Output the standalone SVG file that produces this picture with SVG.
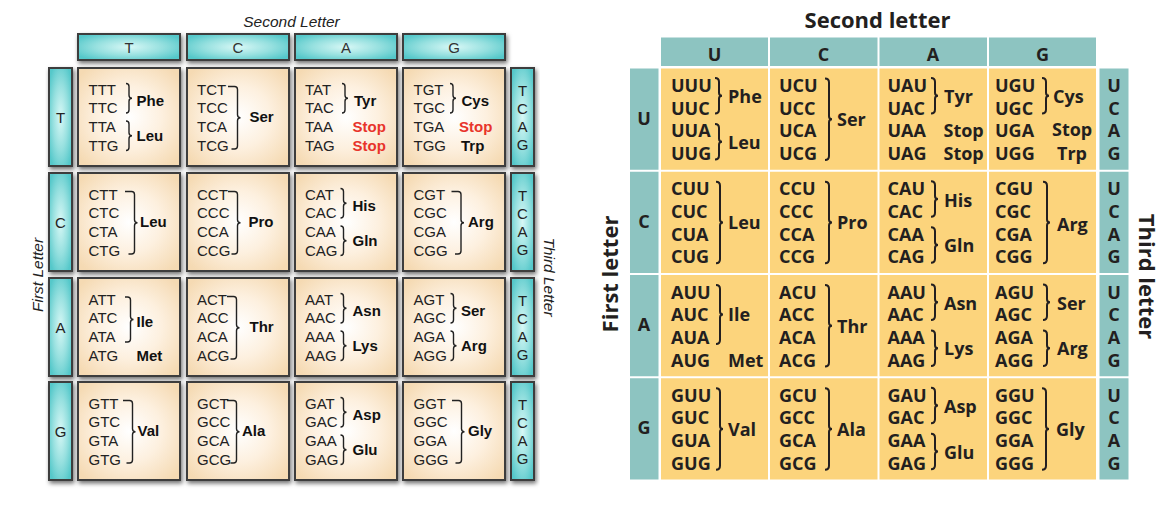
<svg xmlns="http://www.w3.org/2000/svg" xmlns:xlink="http://www.w3.org/1999/xlink" width="1175" height="515" viewBox="0 0 1175 515">
<defs>
<radialGradient id="tealG" cx="50%" cy="50%" r="60%">
<stop offset="0" stop-color="#d8f8f6"/>
<stop offset="0.55" stop-color="#96e0df"/>
<stop offset="1" stop-color="#55c8ca"/>
</radialGradient>
<radialGradient id="cellG" cx="50%" cy="50%" r="64%">
<stop offset="0" stop-color="#ffffff"/>
<stop offset="0.5" stop-color="#fdf0df"/>
<stop offset="1" stop-color="#f5dab3"/>
</radialGradient>
<filter id="sh" x="-15%" y="-15%" width="140%" height="140%">
<feDropShadow dx="1.5" dy="2.5" stdDeviation="2" flood-color="#000" flood-opacity="0.55"/>
</filter>
<path id="lb2" d="M0,0 Q3,0 3,3 V11.75 Q3,14.75 6,14.75 Q3,14.75 3,17.75 V26.5 Q3,29.5 0,29.5"/>
<path id="lb3" d="M0,0 H2.5 Q5.5,0 5.5,3 V19.5 Q5.5,22.5 8.5,22.5 Q5.5,22.5 5.5,25.5 V42 Q5.5,45 2.5,45 H0"/>
<path id="lb4" d="M0,0 H6.5 Q9.5,0 9.5,3 V28.25 Q9.5,31.25 12.5,31.25 Q9.5,31.25 9.5,34.25 V59.5 Q9.5,62.5 6.5,62.5 H3.5"/>
<path id="rb2" d="M0,0 Q4,0 4,4 V14.75 Q4,17.75 7,17.75 Q4,17.75 4,20.75 V31.5 Q4,35.5 0,35.5"/>
<path id="rb3" d="M0,0 Q4,0 4,4 V26.5 Q4,29.5 7,29.5 Q4,29.5 4,32.5 V55 Q4,59 0,59"/>
<path id="rb4" d="M0,0 Q4,0 4,4 V37.75 Q4,40.75 7,40.75 Q4,40.75 4,43.75 V77.5 Q4,81.5 0,81.5"/>
</defs>
<style>
.L{font-family:"Liberation Sans",Arial,sans-serif;font-size:15px;fill:#222}
.la{font-weight:bold;fill:#111}
.ls{font-weight:bold;fill:#e8342b}
.mid{text-anchor:middle}
.lt{font-style:italic;font-size:15.5px;text-anchor:middle;fill:#222}
.lbr{fill:none;stroke:#222;stroke-width:1.4}
.teal{fill:url(#tealG);stroke:#3c3c3c;stroke-width:2;filter:url(#sh)}
.cell{fill:url(#cellG);stroke:#3c3c3c;stroke-width:2;filter:url(#sh)}
.R{font-family:"Open Sans","Noto Sans",sans-serif;font-weight:bold;font-size:18px;fill:#231f20}
.rt{font-size:22px;text-anchor:middle}
.rbr{fill:none;stroke:#231f20;stroke-width:2}
.rcell{fill:#fcd47c}
.rteal{fill:#8dc4c1}
</style>
<rect x="0" y="0" width="1175" height="515" fill="#ffffff"/>

<!-- ================= LEFT TABLE (DNA) ================= -->
<g id="left-titles" class="L">
<text class="lt" x="291.5" y="26.5">Second Letter</text>
<text class="lt" transform="translate(42.5,275) rotate(-90)">First Letter</text>
<text class="lt" transform="translate(544,277) rotate(90)">Third Letter</text>
</g>
<g id="left-headers" class="L">
<rect class="teal" x="78" y="34" width="102" height="26"/>
<rect class="teal" x="187" y="34" width="102" height="26"/>
<rect class="teal" x="295" y="34" width="102" height="26"/>
<rect class="teal" x="403" y="34" width="102" height="26"/>
<text class="mid" x="129" y="52.5" fill="#333">T</text>
<text class="mid" x="238" y="52.5" fill="#333">C</text>
<text class="mid" x="346" y="52.5" fill="#333">A</text>
<text class="mid" x="454" y="52.5" fill="#333">G</text>
</g>
<g id="left-first" class="L">
<rect class="teal" x="49" y="68" width="23" height="98"/>
<rect class="teal" x="49" y="173" width="23" height="98"/>
<rect class="teal" x="49" y="278" width="23" height="98"/>
<rect class="teal" x="49" y="382" width="23" height="98"/>
<text class="mid" x="60.5" y="122.5">T</text>
<text class="mid" x="60.5" y="227.5">C</text>
<text class="mid" x="60.5" y="332.5">A</text>
<text class="mid" x="60.5" y="436.5">G</text>
</g>
<g id="left-third" class="L">
<rect class="teal" x="511" y="68" width="23" height="98"/>
<rect class="teal" x="511" y="173" width="23" height="98"/>
<rect class="teal" x="511" y="278" width="23" height="98"/>
<rect class="teal" x="511" y="382" width="23" height="98"/>
<g class="mid">
<text x="522.5" y="96.4">T</text><text x="522.5" y="114.4">C</text><text x="522.5" y="132.4">A</text><text x="522.5" y="150.4">G</text>
<text x="522.5" y="201.4">T</text><text x="522.5" y="219.4">C</text><text x="522.5" y="237.4">A</text><text x="522.5" y="255.4">G</text>
<text x="522.5" y="306.4">T</text><text x="522.5" y="324.4">C</text><text x="522.5" y="342.4">A</text><text x="522.5" y="360.4">G</text>
<text x="522.5" y="410.4">T</text><text x="522.5" y="428.4">C</text><text x="522.5" y="446.4">A</text><text x="522.5" y="464.4">G</text>
</g>
</g>

<!-- Row T -->
<g id="L-TT" class="L">
<rect class="cell" x="78" y="68" width="102" height="98"/>
<text x="88.5" y="94.5">TTT</text><text x="88.5" y="113.2">TTC</text><text x="88.5" y="131.8">TTA</text><text x="88.5" y="150.5">TTG</text>
<use href="#lb2" class="lbr" x="126" y="83.5"/><use href="#lb2" class="lbr" x="126" y="121"/>
<text class="la" x="136.5" y="105.5">Phe</text><text class="la" x="136.5" y="140.5">Leu</text>
</g>
<g id="L-TC" class="L">
<rect class="cell" x="187" y="68" width="102" height="98"/>
<text x="197" y="94.5">TCT</text><text x="197" y="113.2">TCC</text><text x="197" y="131.8">TCA</text><text x="197" y="150.5">TCG</text>
<use href="#lb4" class="lbr" x="228" y="86.5"/>
<text class="la" x="249.5" y="122">Ser</text>
</g>
<g id="L-TA" class="L">
<rect class="cell" x="295" y="68" width="102" height="98"/>
<text x="305" y="94.5">TAT</text><text x="305" y="113.2">TAC</text><text x="305" y="131.8">TAA</text><text x="305" y="150.5">TAG</text>
<use href="#lb2" class="lbr" x="342" y="83.5"/>
<text class="la" x="354" y="105.5">Tyr</text>
<text class="ls" x="352.5" y="131.8">Stop</text><text class="ls" x="352.5" y="150.5">Stop</text>
</g>
<g id="L-TG" class="L">
<rect class="cell" x="403" y="68" width="102" height="98"/>
<text x="413.5" y="94.5">TGT</text><text x="413.5" y="113.2">TGC</text><text x="413.5" y="131.8">TGA</text><text x="413.5" y="150.5">TGG</text>
<use href="#lb2" class="lbr" x="450" y="83.5"/>
<text class="la" x="461.5" y="105.5">Cys</text>
<text class="ls" x="459" y="131.8">Stop</text><text class="la" x="461" y="150.5">Trp</text>
</g>

<!-- Row C -->
<g id="L-CT" class="L">
<rect class="cell" x="78" y="173" width="102" height="98"/>
<text x="88.5" y="199.5">CTT</text><text x="88.5" y="218.2">CTC</text><text x="88.5" y="236.8">CTA</text><text x="88.5" y="255.5">CTG</text>
<use href="#lb4" class="lbr" x="125" y="191.5"/>
<text class="la" x="140" y="227">Leu</text>
</g>
<g id="L-CC" class="L">
<rect class="cell" x="187" y="173" width="102" height="98"/>
<text x="197" y="199.5">CCT</text><text x="197" y="218.2">CCC</text><text x="197" y="236.8">CCA</text><text x="197" y="255.5">CCG</text>
<use href="#lb4" class="lbr" x="228" y="191.5"/>
<text class="la" x="248.5" y="227">Pro</text>
</g>
<g id="L-CA" class="L">
<rect class="cell" x="295" y="173" width="102" height="98"/>
<text x="305" y="199.5">CAT</text><text x="305" y="218.2">CAC</text><text x="305" y="236.8">CAA</text><text x="305" y="255.5">CAG</text>
<use href="#lb2" class="lbr" x="340.5" y="188.5"/><use href="#lb2" class="lbr" x="340.5" y="226"/>
<text class="la" x="352.5" y="210.5">His</text><text class="la" x="352.5" y="245.5">Gln</text>
</g>
<g id="L-CG" class="L">
<rect class="cell" x="403" y="173" width="102" height="98"/>
<text x="413.5" y="199.5">CGT</text><text x="413.5" y="218.2">CGC</text><text x="413.5" y="236.8">CGA</text><text x="413.5" y="255.5">CGG</text>
<use href="#lb4" class="lbr" x="451.5" y="191.5"/>
<text class="la" x="468" y="227">Arg</text>
</g>

<!-- Row A -->
<g id="L-AT" class="L">
<rect class="cell" x="78" y="278" width="102" height="98"/>
<text x="88.5" y="304.5">ATT</text><text x="88.5" y="323.2">ATC</text><text x="88.5" y="341.8">ATA</text><text x="88.5" y="360.5">ATG</text>
<use href="#lb3" class="lbr" x="125" y="297"/>
<text class="la" x="136.5" y="326.5">Ile</text><text class="la" x="136.5" y="360.5">Met</text>
</g>
<g id="L-AC" class="L">
<rect class="cell" x="187" y="278" width="102" height="98"/>
<text x="197" y="304.5">ACT</text><text x="197" y="323.2">ACC</text><text x="197" y="341.8">ACA</text><text x="197" y="360.5">ACG</text>
<use href="#lb4" class="lbr" x="227" y="296.5"/>
<text class="la" x="249.5" y="332">Thr</text>
</g>
<g id="L-AA" class="L">
<rect class="cell" x="295" y="278" width="102" height="98"/>
<text x="305" y="304.5">AAT</text><text x="305" y="323.2">AAC</text><text x="305" y="341.8">AAA</text><text x="305" y="360.5">AAG</text>
<use href="#lb2" class="lbr" x="340.5" y="293.5"/><use href="#lb2" class="lbr" x="340.5" y="331"/>
<text class="la" x="352.5" y="315.5">Asn</text><text class="la" x="352.5" y="350.5">Lys</text>
</g>
<g id="L-AG" class="L">
<rect class="cell" x="403" y="278" width="102" height="98"/>
<text x="413.5" y="304.5">AGT</text><text x="413.5" y="323.2">AGC</text><text x="413.5" y="341.8">AGA</text><text x="413.5" y="360.5">AGG</text>
<use href="#lb2" class="lbr" x="450.5" y="293.5"/><use href="#lb2" class="lbr" x="450.5" y="331"/>
<text class="la" x="461" y="315.5">Ser</text><text class="la" x="461" y="350.5">Arg</text>
</g>

<!-- Row G -->
<g id="L-GT" class="L">
<rect class="cell" x="78" y="382" width="102" height="98"/>
<text x="88.5" y="408.5">GTT</text><text x="88.5" y="427.2">GTC</text><text x="88.5" y="445.8">GTA</text><text x="88.5" y="464.5">GTG</text>
<use href="#lb4" class="lbr" x="123" y="400.5"/>
<text class="la" x="137.5" y="436">Val</text>
</g>
<g id="L-GC" class="L">
<rect class="cell" x="187" y="382" width="102" height="98"/>
<text x="197" y="408.5">GCT</text><text x="197" y="427.2">GCC</text><text x="197" y="445.8">GCA</text><text x="197" y="464.5">GCG</text>
<use href="#lb4" class="lbr" x="227" y="400.5"/>
<text class="la" x="242" y="436">Ala</text>
</g>
<g id="L-GA" class="L">
<rect class="cell" x="295" y="382" width="102" height="98"/>
<text x="305" y="408.5">GAT</text><text x="305" y="427.2">GAC</text><text x="305" y="445.8">GAA</text><text x="305" y="464.5">GAG</text>
<use href="#lb2" class="lbr" x="340.5" y="397.5"/><use href="#lb2" class="lbr" x="340.5" y="435"/>
<text class="la" x="352.5" y="419.5">Asp</text><text class="la" x="352.5" y="454.5">Glu</text>
</g>
<g id="L-GG" class="L">
<rect class="cell" x="403" y="382" width="102" height="98"/>
<text x="413.5" y="408.5">GGT</text><text x="413.5" y="427.2">GGC</text><text x="413.5" y="445.8">GGA</text><text x="413.5" y="464.5">GGG</text>
<use href="#lb4" class="lbr" x="452" y="400.5"/>
<text class="la" x="468" y="436">Gly</text>
</g>

<!-- ================= RIGHT TABLE (RNA) ================= -->
<g id="right-titles" class="R">
<text class="rt" x="877.5" y="28">Second letter</text>
<text class="rt" transform="translate(618,274) rotate(-90)">First letter</text>
<text class="rt" transform="translate(1139,276.5) rotate(90)">Third letter</text>
</g>
<g id="right-headers" class="R">
<rect class="rteal" x="661" y="37.5" width="107" height="28.5"/>
<rect class="rteal" x="770" y="37.5" width="107.5" height="28.5"/>
<rect class="rteal" x="879.5" y="37.5" width="107.5" height="28.5"/>
<rect class="rteal" x="989" y="37.5" width="107" height="28.5"/>
<text class="mid" x="714.5" y="61">U</text>
<text class="mid" x="823.5" y="61">C</text>
<text class="mid" x="933" y="61">A</text>
<text class="mid" x="1042.5" y="61">G</text>
</g>
<g id="right-first" class="R">
<rect class="rteal" x="630" y="68.5" width="28.5" height="101.25"/>
<rect class="rteal" x="630" y="171.75" width="28.5" height="101.25"/>
<rect class="rteal" x="630" y="275" width="28.5" height="101.25"/>
<rect class="rteal" x="630" y="378.25" width="28.5" height="101.25"/>
<text class="mid" x="644" y="124.5">U</text>
<text class="mid" x="644" y="227.75">C</text>
<text class="mid" x="644" y="331">A</text>
<text class="mid" x="644" y="434.25">G</text>
</g>
<g id="right-third" class="R">
<rect class="rteal" x="1099.5" y="68.5" width="29" height="101.25"/>
<rect class="rteal" x="1099.5" y="171.75" width="29" height="101.25"/>
<rect class="rteal" x="1099.5" y="275" width="29" height="101.25"/>
<rect class="rteal" x="1099.5" y="378.25" width="29" height="101.25"/>
<g class="mid">
<text x="1114" y="92">U</text><text x="1114" y="114.7">C</text><text x="1114" y="137.4">A</text><text x="1114" y="160.1">G</text>
<text x="1114" y="195.25">U</text><text x="1114" y="217.95">C</text><text x="1114" y="240.65">A</text><text x="1114" y="263.35">G</text>
<text x="1114" y="298.5">U</text><text x="1114" y="321.2">C</text><text x="1114" y="343.9">A</text><text x="1114" y="366.6">G</text>
<text x="1114" y="401.75">U</text><text x="1114" y="424.45">C</text><text x="1114" y="447.15">A</text><text x="1114" y="469.85">G</text>
</g>
</g>

<!-- Row U -->
<g id="R-UU" class="R">
<rect class="rcell" x="661" y="68.5" width="107" height="101.25"/>
<text x="671" y="92">UUU</text><text x="671" y="114.7">UUC</text><text x="671" y="137.4">UUA</text><text x="671" y="160.1">UUG</text>
<use href="#rb2" class="rbr" x="715" y="78"/><use href="#rb2" class="rbr" x="715" y="124"/>
<text x="728" y="103.4">Phe</text><text x="728" y="148.75">Leu</text>
</g>
<g id="R-UC" class="R">
<rect class="rcell" x="770" y="68.5" width="107.5" height="101.25"/>
<text x="779" y="92">UCU</text><text x="779" y="114.7">UCC</text><text x="779" y="137.4">UCA</text><text x="779" y="160.1">UCG</text>
<use href="#rb4" class="rbr" x="825" y="78.5"/>
<text x="837" y="126">Ser</text>
</g>
<g id="R-UA" class="R">
<rect class="rcell" x="879.5" y="68.5" width="107.5" height="101.25"/>
<text x="887.5" y="92">UAU</text><text x="887.5" y="114.7">UAC</text><text x="887.5" y="137.4">UAA</text><text x="887.5" y="160.1">UAG</text>
<use href="#rb2" class="rbr" x="931" y="78"/>
<text x="944" y="103.4">Tyr</text>
<text x="943.5" y="137.4">Stop</text><text x="943.5" y="160.1">Stop</text>
</g>
<g id="R-UG" class="R">
<rect class="rcell" x="989" y="68.5" width="107" height="101.25"/>
<text x="995" y="92">UGU</text><text x="995" y="114.7">UGC</text><text x="995" y="137.4">UGA</text><text x="995" y="160.1">UGG</text>
<use href="#rb2" class="rbr" x="1042" y="78"/>
<text x="1053" y="103.4">Cys</text>
<text x="1052" y="136">Stop</text><text x="1057" y="160.1">Trp</text>
</g>

<!-- Row C -->
<g id="R-CU" class="R">
<rect class="rcell" x="661" y="171.75" width="107" height="101.25"/>
<text x="671" y="195.25">CUU</text><text x="671" y="217.95">CUC</text><text x="671" y="240.65">CUA</text><text x="671" y="263.35">CUG</text>
<use href="#rb4" class="rbr" x="716" y="181.75"/>
<text x="728" y="229.25">Leu</text>
</g>
<g id="R-CC" class="R">
<rect class="rcell" x="770" y="171.75" width="107.5" height="101.25"/>
<text x="779" y="195.25">CCU</text><text x="779" y="217.95">CCC</text><text x="779" y="240.65">CCA</text><text x="779" y="263.35">CCG</text>
<use href="#rb4" class="rbr" x="825" y="181.75"/>
<text x="837" y="229.25">Pro</text>
</g>
<g id="R-CA" class="R">
<rect class="rcell" x="879.5" y="171.75" width="107.5" height="101.25"/>
<text x="887.5" y="195.25">CAU</text><text x="887.5" y="217.95">CAC</text><text x="887.5" y="240.65">CAA</text><text x="887.5" y="263.35">CAG</text>
<use href="#rb2" class="rbr" x="931" y="181.25"/><use href="#rb2" class="rbr" x="931" y="227.25"/>
<text x="944" y="206.65">His</text><text x="944" y="252">Gln</text>
</g>
<g id="R-CG" class="R">
<rect class="rcell" x="989" y="171.75" width="107" height="101.25"/>
<text x="995" y="195.25">CGU</text><text x="995" y="217.95">CGC</text><text x="995" y="240.65">CGA</text><text x="995" y="263.35">CGG</text>
<use href="#rb4" class="rbr" x="1043" y="181.75"/>
<text x="1057" y="231">Arg</text>
</g>

<!-- Row A -->
<g id="R-AU" class="R">
<rect class="rcell" x="661" y="275" width="107" height="101.25"/>
<text x="671" y="298.5">AUU</text><text x="671" y="321.2">AUC</text><text x="671" y="343.9">AUA</text><text x="671" y="366.6">AUG</text>
<use href="#rb3" class="rbr" x="716" y="285"/>
<text x="728" y="321.2">Ile</text><text x="728" y="366.6">Met</text>
</g>
<g id="R-AC" class="R">
<rect class="rcell" x="770" y="275" width="107.5" height="101.25"/>
<text x="779" y="298.5">ACU</text><text x="779" y="321.2">ACC</text><text x="779" y="343.9">ACA</text><text x="779" y="366.6">ACG</text>
<use href="#rb4" class="rbr" x="825" y="285"/>
<text x="837" y="332.5">Thr</text>
</g>
<g id="R-AA" class="R">
<rect class="rcell" x="879.5" y="275" width="107.5" height="101.25"/>
<text x="887.5" y="298.5">AAU</text><text x="887.5" y="321.2">AAC</text><text x="887.5" y="343.9">AAA</text><text x="887.5" y="366.6">AAG</text>
<use href="#rb2" class="rbr" x="931" y="284.5"/><use href="#rb2" class="rbr" x="931" y="330.5"/>
<text x="944" y="309.9">Asn</text><text x="944" y="355.25">Lys</text>
</g>
<g id="R-AG" class="R">
<rect class="rcell" x="989" y="275" width="107" height="101.25"/>
<text x="995" y="298.5">AGU</text><text x="995" y="321.2">AGC</text><text x="995" y="343.9">AGA</text><text x="995" y="366.6">AGG</text>
<use href="#rb2" class="rbr" x="1043" y="284.5"/><use href="#rb2" class="rbr" x="1043" y="330.5"/>
<text x="1057" y="309.9">Ser</text><text x="1057" y="355.25">Arg</text>
</g>

<!-- Row G -->
<g id="R-GU" class="R">
<rect class="rcell" x="661" y="378.25" width="107" height="101.25"/>
<text x="671" y="401.75">GUU</text><text x="671" y="424.45">GUC</text><text x="671" y="447.15">GUA</text><text x="671" y="469.85">GUG</text>
<use href="#rb4" class="rbr" x="716" y="388.25"/>
<text x="728" y="435.75">Val</text>
</g>
<g id="R-GC" class="R">
<rect class="rcell" x="770" y="378.25" width="107.5" height="101.25"/>
<text x="779" y="401.75">GCU</text><text x="779" y="424.45">GCC</text><text x="779" y="447.15">GCA</text><text x="779" y="469.85">GCG</text>
<use href="#rb4" class="rbr" x="825" y="388.25"/>
<text x="837" y="435.75">Ala</text>
</g>
<g id="R-GA" class="R">
<rect class="rcell" x="879.5" y="378.25" width="107.5" height="101.25"/>
<text x="887.5" y="401.75">GAU</text><text x="887.5" y="424.45">GAC</text><text x="887.5" y="447.15">GAA</text><text x="887.5" y="469.85">GAG</text>
<use href="#rb2" class="rbr" x="931" y="387.75"/><use href="#rb2" class="rbr" x="931" y="433.75"/>
<text x="944" y="413.15">Asp</text><text x="944" y="458.5">Glu</text>
</g>
<g id="R-GG" class="R">
<rect class="rcell" x="989" y="378.25" width="107" height="101.25"/>
<text x="995" y="401.75">GGU</text><text x="995" y="424.45">GGC</text><text x="995" y="447.15">GGA</text><text x="995" y="469.85">GGG</text>
<use href="#rb4" class="rbr" x="1042" y="388.25"/>
<text x="1056" y="435.75">Gly</text>
</g>

<g id="connectors"/>
</svg>
